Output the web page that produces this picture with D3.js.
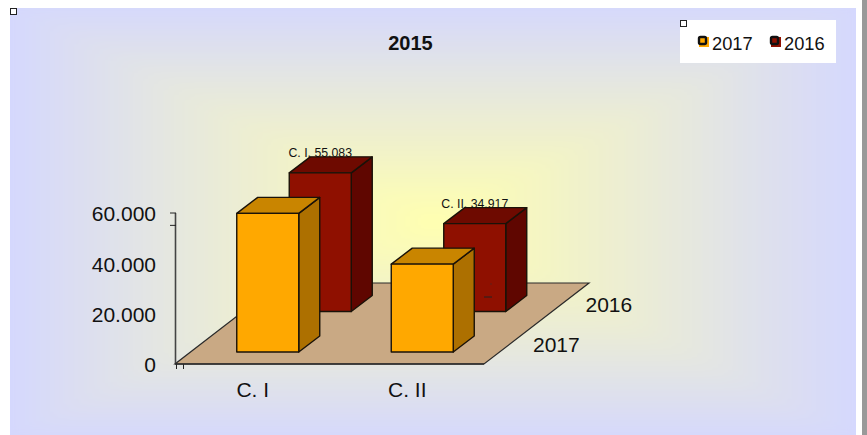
<!DOCTYPE html>
<html><head><meta charset="utf-8">
<script src="https://cdn.jsdelivr.net/npm/d3@7"></script>
<style>html,body{margin:0;padding:0;background:#fff}svg{display:block}text{font-family:"Liberation Sans",Arial,sans-serif;fill:#111}</style>
</head><body><svg id="c" width="867" height="435"></svg>
<script>
const title = "2015";
const categories = ["C. I", "C. II"];
const seriesNames = ["2017", "2016"];
const values2017 = [55083, 34917];
const values2016 = [55083, 34917];
const yTicks = [0, 20000, 40000, 60000];
const oddTickValues = [55083, 60000];
const frontColors = ["#FFA800", "#8F1000"];
const topColors = ["#C98500", "#6E0A00"];
const sideColors = ["#AD7000", "#5F0600"];
const bgEdge = "#D4D7FF", bgCentre = "#FFFFB0";

const svg = d3.select("#c");
const W = 867, H = 435;
const panel = {x0:10, y0:8, x1:856, y1:435};
const y = d3.scaleLinear().domain([0, 60000]).range([364, 213]);
const x = d3.scaleBand().domain(categories).range([175, 484]);
const depthX = d3.scaleBand().domain(seriesNames).range([0, 105]);
const depthY = d3.scaleBand().domain(seriesNames).range([0, 81]);
const fmt = d3.formatLocale({decimal:",", thousands:".", grouping:[3], currency:["",""]}).format(",d");

svg.append("rect").attr("x",862).attr("y",0).attr("width",5).attr("height",H).attr("fill","#999");

// path-style rectangular background
const steps = 64, bgColor = d3.interpolateRgb(bgEdge, bgCentre);
const cx = (panel.x0+panel.x1)/2, cy = (panel.y0+panel.y1)/2, pw = panel.x1-panel.x0, ph = panel.y1-panel.y0;
const defs = svg.append("defs");
defs.append("clipPath").attr("id","pc").append("rect").attr("x",panel.x0).attr("y",panel.y0).attr("width",pw).attr("height",ph);
defs.append("filter").attr("id","bl").attr("filterUnits","userSpaceOnUse").attr("x",-40).attr("y",-40).attr("width",W+80).attr("height",H+80)
  .append("feGaussianBlur").attr("stdDeviation",9);
svg.append("rect").attr("x",panel.x0).attr("y",panel.y0).attr("width",pw).attr("height",ph).attr("fill",bgEdge);
svg.append("g").attr("clip-path","url(#pc)").append("g").attr("filter","url(#bl)")
  .selectAll("rect").data(d3.range(steps)).join("rect")
  .attr("x", i => cx - (pw/2+12)*(1-i/steps)).attr("y", i => cy - (ph/2+12)*(1-i/steps))
  .attr("width", i => (pw+24)*(1-i/steps)).attr("height", i => (ph+24)*(1-i/steps))
  .attr("fill", i => bgColor(i/(steps-1)));

// floor
const fl = d3.line();
svg.append("path").attr("d", fl([[175,y(0)],[484,y(0)],[484+105,y(0)-81],[175+105,y(0)-81]])+"Z")
  .attr("fill","#C9A984").attr("stroke","#2a2a2a").attr("stroke-width",1.2);

// axis
const axis = d3.axisLeft(y).tickValues(yTicks).tickFormat(fmt).tickSize(0).tickPadding(19);
const ag = svg.append("g").attr("transform","translate(175,1)").call(axis);
ag.select(".domain").remove();
ag.selectAll("text").attr("font-size",21).style("font-family",'"Liberation Sans",Arial,sans-serif').attr("fill","#111");
svg.append("line").attr("x1",175.5).attr("x2",175.5).attr("y1",y(60000)).attr("y2",y(0)).attr("stroke","#444").attr("stroke-width",1.6);
svg.append("g").selectAll("line").data(oddTickValues).join("line")
  .attr("x1",170).attr("x2",176).attr("y1",d=>y(d)).attr("y2",d=>y(d)).attr("stroke","#222").attr("stroke-width",1);
svg.append("g").selectAll("line").data([176.5,183.5]).join("line")
  .attr("x1",d=>d).attr("x2",d=>d).attr("y1",y(0)).attr("y2",y(0)+5).attr("stroke","#222").attr("stroke-width",1);
svg.append("path").attr("d","M175 364H484").attr("stroke","#2a2a2a").attr("stroke-width",1.6);

// category labels & depth labels
svg.append("g").selectAll("text").data(categories).join("text")
  .attr("x",d=>x(d)+x.bandwidth()/2+0.5).attr("y",397).attr("text-anchor","middle").attr("font-size",21).text(d=>d);
svg.append("g").selectAll("text").data(seriesNames).join("text")
  .attr("x",d=>484+depthX(d)+49).attr("y",d=>y(0)-depthY(d)-12).attr("font-size",21).text(d=>d);

// bars
const barW = 62, barDX = 21, barDY = -16;
function drawSeries(s, vals){
  const name = seriesNames[s];
  categories.forEach((c,i)=>{
    const left = x(c) + (x.bandwidth()-barW)/2 + 15.5 + depthX(name);
    const base = y(0) - 12 - depthY(name);
    const top = base - (y(0)-y(vals[i]));
    if(s===1) svg.append("text").attr("x",left+barW/2).attr("y",top+barDY).attr("text-anchor","middle").attr("font-size",12.3).text(`${c}, ${fmt(vals[i])}`);
    const bg = svg.append("g").attr("stroke","#1a1208").attr("stroke-width",1.4).attr("stroke-linejoin","round");
    bg.append("path").attr("fill",sideColors[s]).attr("d",fl([[left+barW,top],[left+barW+barDX,top+barDY],[left+barW+barDX,base+barDY],[left+barW,base]])+"Z");
    bg.append("path").attr("fill",topColors[s]).attr("d",fl([[left,top],[left+barDX,top+barDY],[left+barW+barDX,top+barDY],[left+barW,top]])+"Z");
    bg.append("rect").attr("fill",frontColors[s]).attr("x",left).attr("y",top).attr("width",barW).attr("height",base-top);
  });
}
drawSeries(1, values2016);
drawSeries(0, values2017);

// stray marks
svg.append("path").attr("d","M484 297H492").attr("stroke","#222").attr("stroke-width",1);
svg.append("rect").attr("x",490.5).attr("y",283.5).attr("width",1).attr("height",1).attr("fill","#333");

// title
svg.append("text").attr("x",410.5).attr("y",50).attr("text-anchor","middle").attr("font-size",20).attr("font-weight","bold").text(title);

// legend
svg.append("rect").attr("x",680).attr("y",20).attr("width",156).attr("height",43).attr("fill","#fff");
const lg = svg.append("g").selectAll("g").data(seriesNames).join("g").attr("transform",(d,i)=>`translate(${699+i*72},0)`);
lg.append("rect").attr("x",0).attr("y",37).attr("width",10).attr("height",10).attr("fill",(d,i)=>frontColors[i]);
lg.append("rect").attr("x",0).attr("y",37).attr("width",7).attr("height",7).attr("rx",1.5).attr("fill",(d,i)=>frontColors[i]).attr("stroke","#111").attr("stroke-width",2.4);
lg.append("text").attr("x",13).attr("y",50).attr("font-size",18.3).text(d=>d);

// handles
svg.append("g").selectAll("rect").data([[10.5,8.5],[680.5,20.5]]).join("rect")
  .attr("x",d=>d[0]).attr("y",d=>d[1]).attr("width",6).attr("height",6).attr("fill","#fff").attr("stroke","#222").attr("stroke-width",1);
</script></body></html>
